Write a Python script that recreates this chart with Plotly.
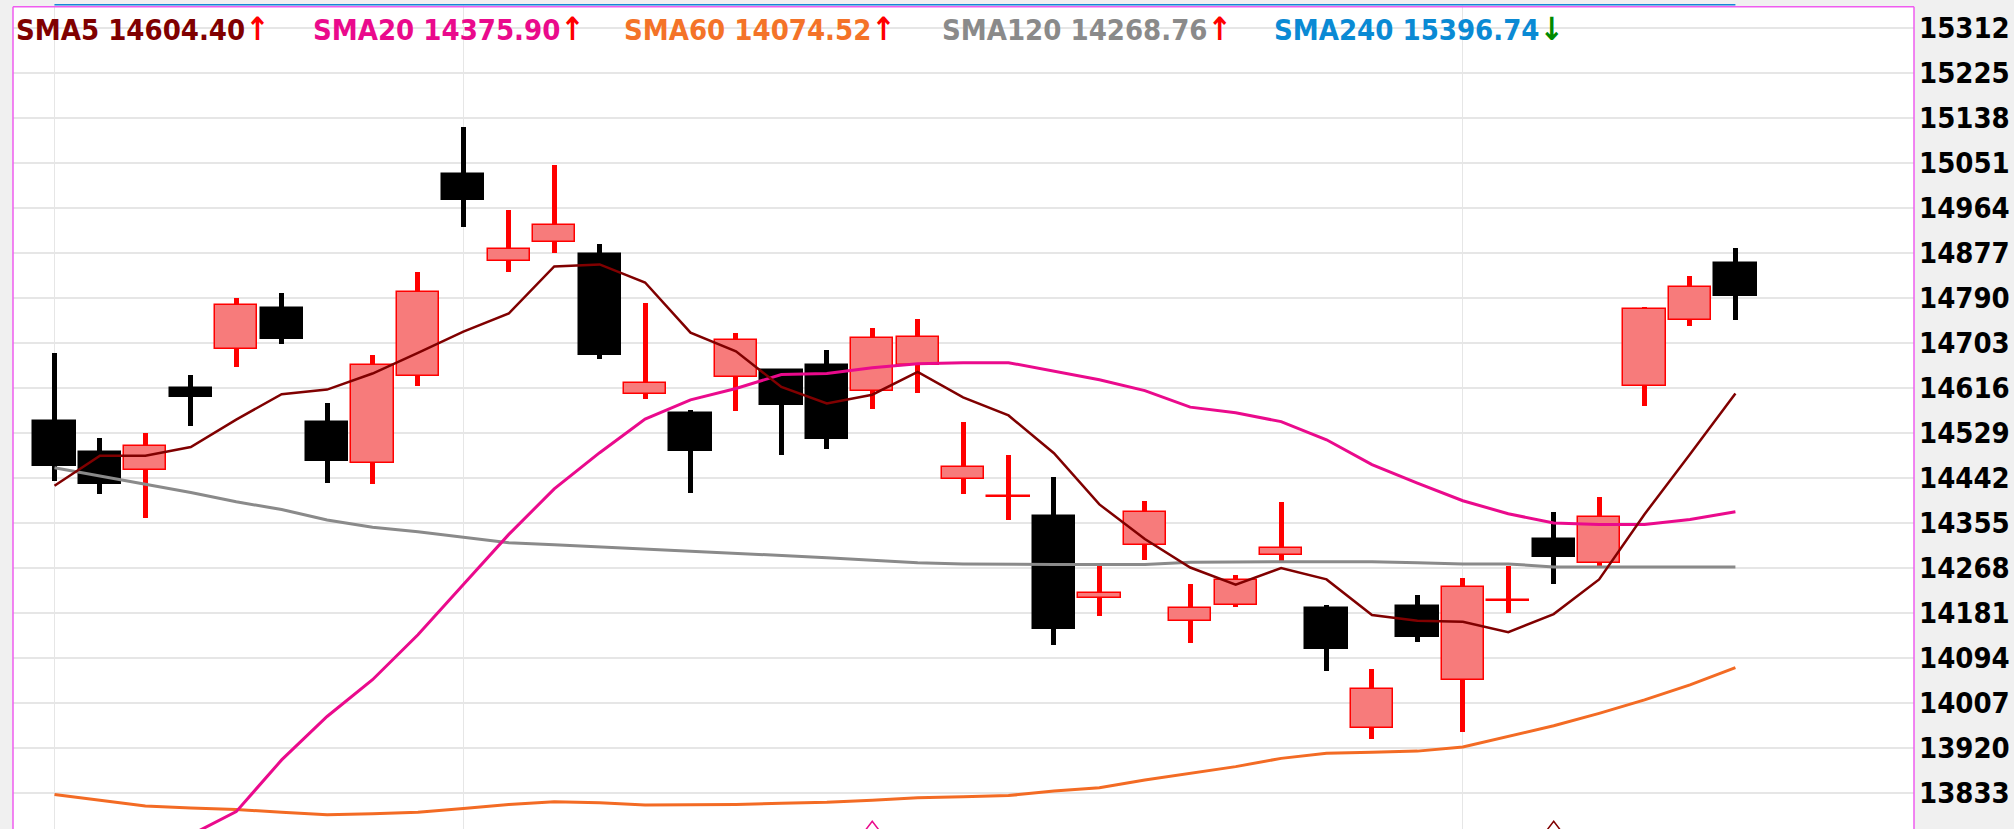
import numpy as np
import plotly.graph_objects as go

# ---------------- data ----------------
idx = list(range(38))
opens = [14552, 14491, 14457, 14616, 14691, 14769, 14550, 14471, 14638, 15029,
         14860, 14898, 14874, 14603, 14567, 14636, 14650, 14659, 14609, 14659,
         14439, 14405, 14368, 14209, 14311, 14165, 14195, 14293, 14190, 13957,
         14193, 14050, 14204, 14323, 14276, 14618, 14746, 14857]
highs = [14682, 14518, 14529, 14641, 14789, 14798, 14587, 14679, 14839, 15119,
         14960, 15046, 14893, 14780, 14572, 14722, 14652, 14688, 14731, 14749,
         14549, 14486, 14443, 14272, 14397, 14236, 14254, 14394, 14196, 14072,
         14214, 14248, 14271, 14376, 14404, 14771, 14832, 14886]
lows = [14435, 14410, 14363, 14542, 14656, 14701, 14432, 14429, 14618, 14927,
        14840, 14877, 14672, 14594, 14413, 14571, 14485, 14497, 14574, 14606,
        14410, 14360, 14118, 14174, 14283, 14122, 14192, 14280, 14067, 13936,
        14124, 13950, 14180, 14237, 14270, 14581, 14734, 14746]
closes = [14464, 14429, 14503, 14598, 14775, 14710, 14473, 14659, 14800, 14978,
          14884, 14930, 14678, 14624, 14493, 14707, 14583, 14516, 14711, 14713,
          14462, 14407, 14150, 14219, 14375, 14190, 14243, 14306, 14110, 14033,
          14134, 14231, 14206, 14288, 14365, 14767, 14810, 14792]

sma5 = [14426, 14484, 14484, 14501, 14554, 14603, 14612, 14643, 14683, 14724,
        14759, 14850, 14854, 14819, 14722, 14686, 14617, 14585, 14602, 14646,
        14597, 14562, 14489, 14390, 14323, 14268, 14235, 14267, 14245, 14176,
        14165, 14163, 14143, 14178, 14245, 14371, 14487, 14604.40]
sma20 = [13640, 13675, 13712, 13751, 13796, 13896, 13980, 14051, 14138, 14235,
         14332, 14420, 14490, 14555, 14592, 14614, 14641, 14643, 14654, 14662,
         14664, 14664, 14648, 14631, 14610, 14578, 14567, 14550, 14515, 14467,
         14431, 14397, 14372, 14354, 14351, 14351, 14361, 14375.90]
sma60 = [13829, 13818, 13807, 13803, 13800, 13795, 13790, 13792, 13795, 13802,
         13810, 13815, 13813, 13809, 13809, 13810, 13812, 13814, 13818, 13823,
         13825, 13827, 13836, 13842, 13857, 13870, 13883, 13899, 13909, 13911,
         13913, 13921, 13941, 13962, 13986, 14012, 14041, 14074.52]
sma120 = [14461, 14445, 14429, 14413, 14395, 14380, 14360, 14346, 14337, 14326,
          14316, 14312, 14308, 14304, 14299, 14295, 14291, 14287, 14282, 14277,
          14275, 14274, 14274, 14274, 14274, 14278, 14279, 14279, 14279, 14279,
          14277, 14275, 14275, 14269, 14269, 14269, 14269, 14268.76]
# SMA240 lies above the visible price range (estimated values)
sma240 = [15521, 15518, 15514, 15511, 15507, 15503, 15500, 15496, 15493, 15489,
          15486, 15482, 15479, 15475, 15472, 15468, 15465, 15461, 15458, 15455,
          15451, 15448, 15445, 15441, 15438, 15435, 15431, 15428, 15425, 15421,
          15418, 15415, 15411, 15408, 15405, 15402, 15399, 15396.74]

legend_names = ["SMA5", "SMA20", "SMA60", "SMA120", "SMA240"]
legend_values = ["14604.40", "14375.90", "14074.52", "14268.76", "15396.74"]
legend_dirs = ["up", "up", "up", "up", "down"]

y_ticks = [13833, 13920, 14007, 14094, 14181, 14268, 14355, 14442, 14529,
           14616, 14703, 14790, 14877, 14964, 15051, 15138, 15225, 15312]
month_starts = [0, 9, 31]
signal_x = [18, 33]
signal_y = [13755, 13755]

# ---------------- styling ----------------
C_UP_FILL = "#f77b7b"
C_UP_LINE = "#ff0000"
C_DN = "#000000"
C_SMA5 = "#800000"
C_SMA20 = "#ea0a8c"
C_SMA60 = "#f36b24"
C_SMA120 = "#8a8a8a"
C_SMA240 = "#1585d8"
legend_colors = [C_SMA5, C_SMA20, "#f47328", "#8a8a8a", "#0a8ad4"]
BORDER = "#ef5cef"
FONT = "DejaVu Sans Condensed, DejaVu Sans"

W, H = 2014, 829
ML, MR, MT, MB = 13, 100, 4, 0
plot_w = W - ML - MR
plot_h = H - MT - MB

# x mapping: candle 0 at 54.5px, spacing 45.43px
x_lo = (ML - 54.5) / 45.43
x_hi = (W - MR - 54.5) / 45.43
# y mapping: 15312 at 27.5px, 0.51724 px per point
ppu = 0.51724
y_hi = 15312 + (27.5 - MT) / ppu
y_lo = 15312 - (H - MB - 27.5) / ppu

o = np.array(opens, float); c = np.array(closes, float)
hi = np.array(highs, float); lo = np.array(lows, float)
up = c >= o

fig = go.Figure()

# wicks
fig.add_trace(go.Bar(
    x=idx, base=lo, y=hi - lo, width=0.11,
    marker=dict(color=[C_UP_LINE if u else C_DN for u in up], line=dict(width=0)),
    hoverinfo="skip"))
# bodies
fig.add_trace(go.Bar(
    x=idx, base=np.minimum(o, c), y=np.abs(c - o), width=0.93,
    marker=dict(color=[C_UP_FILL if u else C_DN for u in up],
                line=dict(color=[C_UP_LINE if u else C_DN for u in up], width=1.5)),
    customdata=np.stack([o, hi, lo, c], axis=1),
    hovertemplate="O %{customdata[0]}<br>H %{customdata[1]}<br>L %{customdata[2]}<br>C %{customdata[3]}<extra></extra>"))

for vals, col, w in [(sma120, C_SMA120, 3), (sma60, C_SMA60, 3),
                     (sma20, C_SMA20, 3), (sma5, C_SMA5, 2.5)]:
    fig.add_trace(go.Scatter(x=idx, y=vals, mode="lines",
                             line=dict(color=col, width=w)))

# SMA240 is beyond the top of the scale: drawn pinned to the top edge
fig.add_trace(go.Scatter(x=idx, y=np.minimum(np.array(sma240), y_hi), mode="lines",
                         line=dict(color=C_SMA240, width=3), hoverinfo="skip"))

# signal markers at the bottom edge
fig.add_trace(go.Scatter(x=signal_x, y=signal_y, mode="markers", cliponaxis=True,
                         marker=dict(symbol="triangle-up-open", size=23,
                                     color=[C_SMA20, C_SMA5],
                                     line=dict(width=1.5, color=[C_SMA20, C_SMA5])),
                         hoverinfo="skip"))

# legend row
legend_px = [15, 312, 623, 941, 1273]
for name, val, d, col, px in zip(legend_names, legend_values, legend_dirs,
                                  legend_colors, legend_px):
    arrow = ("<span style='color:#ff0000;font-size:32px'>↑</span>" if d == "up"
             else "<span style='color:#008a00;font-size:32px'>↓</span>")
    fig.add_annotation(
        xref="paper", yref="paper", x=(px - ML) / plot_w,
        y=1 - (29 - MT) / plot_h, xanchor="left", yanchor="middle",
        text=f"<span style='color:{col}'>{name} {val}</span>{arrow}",
        showarrow=False, borderpad=0,
        font=dict(family=FONT, size=29, weight="bold"))

top_border = 1 - (6.7 - MT) / plot_h
fig.update_layout(
    width=W, height=H,
    margin=dict(l=ML, r=MR, t=MT, b=MB, pad=0),
    paper_bgcolor="#f0f0f0", plot_bgcolor="#f0f0f0",
    barmode="overlay", bargap=0, showlegend=False,
    xaxis=dict(range=[x_lo, x_hi], tickvals=month_starts, showticklabels=False,
               showgrid=True, gridcolor="#e6e6e6", gridwidth=1, zeroline=False,
               ticks="", showline=False),
    yaxis=dict(range=[y_lo, y_hi], side="right", tickvals=y_ticks,
               ticktext=[str(v) for v in y_ticks], showgrid=True,
               gridcolor="#e6e6e6", gridwidth=2, zeroline=False, ticks="",
               ticklabelstandoff=4, showline=False,
               tickfont=dict(family=FONT, size=29, color="#000000", weight="bold")),
    shapes=[
        dict(type="rect", xref="paper", yref="paper", x0=0, x1=1, y0=0, y1=top_border,
             fillcolor="#ffffff", line=dict(width=0), layer="below"),
        dict(type="line", xref="paper", yref="paper", x0=0, x1=0, y0=0, y1=top_border,
             line=dict(color=BORDER, width=1.5)),
        dict(type="line", xref="paper", yref="paper", x0=1, x1=1, y0=0, y1=top_border,
             line=dict(color=BORDER, width=1.5)),
        dict(type="line", xref="paper", yref="paper", x0=0, x1=1, y0=top_border,
             y1=top_border, line=dict(color=BORDER, width=1.5)),
    ],
)

fig.write_html(
    "out.html",
    config={"displayModeBar": False},
    post_script="document.body.style.margin='0';document.body.style.overflow='hidden';"
                "document.documentElement.style.background='#f0f0f0';")
